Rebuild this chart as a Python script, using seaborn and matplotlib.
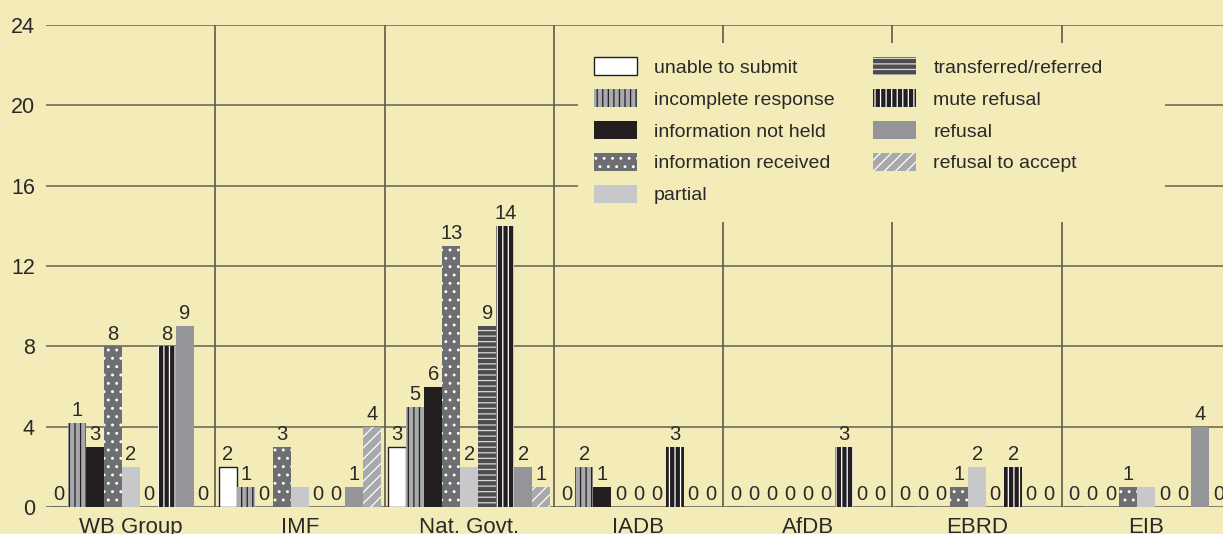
# Bar chart of request outcomes per institution
import matplotlib.pyplot as plt
import matplotlib.patches as mpatches
import pandas as pd
import seaborn as sns

# Data
groups = ['WB Group', 'IMF', 'Nat. Govt.', 'IADB', 'AfDB', 'EBRD', 'EIB']
series = ['unable to submit', 'incomplete response', 'information not held',
          'information received', 'partial', 'transferred/referred',
          'mute refusal', 'refusal', 'refusal to accept']

unable = [0, 2, 3, 0, 0, 0, 0]
incomplete = [4.2, 1, 5, 2, 0, 0, 0]
not_held = [3, 0, 6, 1, 0, 0, 0]
received = [8, 3, 13, 0, 0, 1, 1]
partial = [2, 1, 2, 0, 0, 2, 1]
transferred = [0, 0, 9, 0, 0, 0, 0]
mute = [8, 0, 14, 3, 3, 2, 0]
refusal = [9, 1, 2, 0, 0, 0, 4]
refusal_accept = [0, 4, 1, 0, 0, 0, 0]

values = [unable, incomplete, not_held, received, partial,
          transferred, mute, refusal, refusal_accept]

# labels printed on the chart that differ from the plain value
label_override = {
    ('incomplete response', 'WB Group'): '1',
    ('partial', 'IMF'): '',
    ('partial', 'EIB'): '',
}

yticks = [0, 4, 8, 12, 16, 20, 24]

# Build long table for seaborn
rows = []
for s, vals in zip(series, values):
    for g, v in zip(groups, vals):
        rows.append([g, s, v])
df = pd.DataFrame(rows, columns=['group', 'status', 'count'])

bg = '#f3ecb9'
text_col = '#2b2829'
grid_col = '#837d66'
sep_col = '#5e5a48'

# fill, hatch colour/edge, hatch, edge width
styles = {
    'unable to submit': ('#ffffff', '#231f20', '', 1.0),
    'incomplete response': ('#a7a9ac', '#231f20', '|||', 0),
    'information not held': ('#231f20', '#231f20', '', 0),
    'information received': ('#6d6e71', '#ffffff', '..', 0),
    'partial': ('#c7c8ca', '#c7c8ca', '', 0),
    'transferred/referred': ('#4d4d4f', '#d8d8d8', '---', 0),
    'mute refusal': ('#231f20', '#ffffff', '|||', 0),
    'refusal': ('#939598', '#939598', '', 0),
    'refusal to accept': ('#a7a9ac', '#ffffff', '///', 0),
}

sns.set_style('white')
plt.rcParams['font.family'] = ['Liberation Sans', 'DejaVu Sans']
plt.rcParams['hatch.linewidth'] = 0.9

# each group is about 169 px wide, so the last group runs a bit past the edge
fig = plt.figure(figsize=(12.23, 5.34), dpi=100, facecolor=bg)
ax = fig.add_axes([46 / 1223, 27 / 534, 1185 / 1223, (507 - 25) / 534])
ax.set_facecolor(bg)

palette = {s: styles[s][0] for s in series}
sns.barplot(data=df, x='group', y='count', hue='status', order=groups,
            hue_order=series, palette=palette, width=0.958, saturation=1,
            errorbar=None, legend=False, ax=ax)

# Style the bars and add value labels
for s, container in zip(series, ax.containers):
    fill, edge, hatch, lw = styles[s]
    for p in container.patches:
        p.set_facecolor(fill)
        p.set_edgecolor(edge)
        p.set_hatch(hatch)
        p.set_linewidth(lw)
    vals = values[series.index(s)]
    labels = []
    for g, v in zip(groups, vals):
        labels.append(label_override.get((s, g), str(int(round(v)))))
    ax.bar_label(container, labels=labels, padding=2, fontsize=14.5,
                 color=text_col)

ax.set_xlim(-0.5, 6.5)
ax.set_ylim(0, 24)
ax.set_yticks(yticks)
ax.set_xlabel('')
ax.set_ylabel('')
for sp in ax.spines.values():
    sp.set_visible(False)

ax.yaxis.grid(True, color=grid_col, linewidth=1.4)
ax.set_axisbelow(True)
for x in [0.5, 1.5, 2.5, 3.5, 4.5, 5.5]:
    ax.axvline(x, color=sep_col, linewidth=1.2, zorder=0.6)

# plain box behind the legend that hides the grid
ax.add_patch(mpatches.Rectangle((2.642, 14.2), 3.468, 8.9, facecolor=bg,
                                edgecolor='none', zorder=0.8))

ax.tick_params(axis='y', length=0, labelsize=15.5, labelcolor=text_col, pad=8)
ax.tick_params(axis='x', length=0, labelsize=16, labelcolor=text_col, pad=7)

ax.legend(ax.containers, series, loc='upper left',
          bbox_to_anchor=(594 / 1223, 1 - 57 / 534),
          bbox_transform=fig.transFigure, ncol=2, frameon=False,
          fontsize=14, labelcolor=text_col, handlelength=2.2,
          handleheight=1.08, handletextpad=0.88, labelspacing=0.62,
          columnspacing=2.0, borderpad=0, borderaxespad=0)

fig.savefig('out.png', dpi=100, facecolor=bg)
